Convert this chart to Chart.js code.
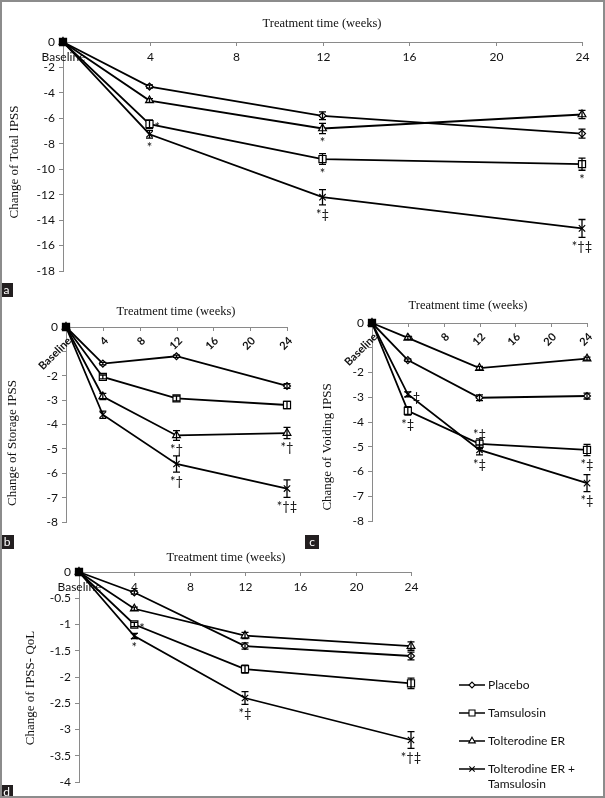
<!DOCTYPE html>
<html>
<head>
<meta charset="utf-8">
<script src="https://cdn.jsdelivr.net/npm/chart.js@4.4.1/dist/chart.umd.min.js"></script>
<style>
  body { margin: 0; background: #fff; }
  #fig { position: relative; width: 605px; height: 798px; overflow: hidden; background: #fff; }
  #fig canvas { position: absolute; }
  .frame { position: absolute; left: 0; top: 0; width: 605px; height: 798px; box-sizing: border-box; border: 2px solid #8c8c8c; pointer-events: none; }
  .tag { position: absolute; background: #231f20; color: #fff; font: 12px Lato, "Liberation Sans", sans-serif; line-height: 14px; text-align: center; }
</style>
</head>
<body>
<div id="fig">
  <canvas id="panelA" width="605" height="298" style="left:0;top:0"></canvas>
  <canvas id="panelB" width="301" height="252" style="left:0;top:298px"></canvas>
  <canvas id="panelC" width="304" height="252" style="left:301px;top:298px"></canvas>
  <canvas id="panelD" width="605" height="248" style="left:0;top:550px"></canvas>
  <div class="tag" style="left:0;top:283px;width:13px;height:14px">a</div>
  <div class="tag" style="left:0;top:535px;width:14px;height:14px">b</div>
  <div class="tag" style="left:305px;top:535px;width:14px;height:14px">c</div>
  <div class="tag" style="left:0;top:785px;width:13px;height:13px">d</div>
  <div class="frame"></div>
</div>
<script>
// time points and axis ticks
const weeks = [0, 4, 12, 24];
const xTickValues = [0, 4, 8, 12, 16, 20, 24];
const xTickLabels = ['Baseline', '4', '8', '12', '16', '20', '24'];
const seriesNames = ['Placebo', 'Tamsulosin', 'Tolterodine ER', 'Tolterodine ER + Tamsulosin'];

// a: total IPSS
const totalPlacebo = [0, -3.5, -5.8, -7.2];
const totalTamsulosin = [0, -6.45, -9.2, -9.6];
const totalTolterodine = [0, -4.6, -6.8, -5.7];
const totalCombo = [0, -7.25, -12.2, -14.65];
const totalErrPlacebo = [0, 0.12, 0.3, 0.35];
const totalErrTamsulosin = [0, 0.33, 0.42, 0.48];
const totalErrTolterodine = [0, 0.15, 0.4, 0.32];
const totalErrCombo = [0, 0.3, 0.6, 0.7];
const totalMarks = [['', '', '', ''], ['', '*', '*', '*'], ['', '', '*', ''], ['', '*', '*‡', '*†‡']];

// b: storage IPSS
const storagePlacebo = [0, -1.5, -1.2, -2.42];
const storageTamsulosin = [0, -2.05, -2.93, -3.2];
const storageTolterodine = [0, -2.85, -4.45, -4.35];
const storageCombo = [0, -3.6, -5.62, -6.63];
const storageErrPlacebo = [0, 0.05, 0.05, 0.1];
const storageErrTamsulosin = [0, 0.08, 0.1, 0.15];
const storageErrTolterodine = [0, 0.13, 0.2, 0.23];
const storageErrCombo = [0, 0.15, 0.33, 0.36];
const storageMarks = [['', '', '', ''], ['', '', '', ''], ['', '', '*†', '*†'], ['', '', '*†', '*†‡']];

// c: voiding IPSS
const voidingPlacebo = [0, -1.5, -3.02, -2.95];
const voidingTamsulosin = [0, -3.55, -4.88, -5.13];
const voidingTolterodine = [0, -0.6, -1.82, -1.44];
const voidingCombo = [0, -2.88, -5.13, -6.47];
const voidingErrPlacebo = [0, 0.05, 0.12, 0.12];
const voidingErrTamsulosin = [0, 0.17, 0.2, 0.23];
const voidingErrTolterodine = [0, 0.06, 0.07, 0.06];
const voidingErrCombo = [0, 0.1, 0.2, 0.34];
const voidingMarks = [['', '', '', ''], ['', '*‡', '*‡', '*‡'], ['', '', '', ''], ['', '‡', '*‡', '*‡']];

// d: IPSS QoL
const qolPlacebo = [0, -0.39, -1.41, -1.6];
const qolTamsulosin = [0, -1.0, -1.85, -2.12];
const qolTolterodine = [0, -0.7, -1.21, -1.41];
const qolCombo = [0, -1.22, -2.4, -3.2];
const qolErrPlacebo = [0, 0.03, 0.06, 0.075];
const qolErrTamsulosin = [0, 0.04, 0.075, 0.1];
const qolErrTolterodine = [0, 0.03, 0.06, 0.08];
const qolErrCombo = [0, 0.05, 0.12, 0.16];
const qolMarks = [['', '', '', ''], ['', '*', '', ''], ['', '', '', ''], ['', '*', '*‡', '*†‡']];

const SANS = 'Lato, "Liberation Sans", sans-serif';
const SERIF = '"Liberation Serif", "DejaVu Serif", serif';
const AXIS = '#8a8a8a';
const INK = '#111';

const markers = [
  { style: 'rectRot', r: 3.5 },
  { style: 'rect', r: 5 },
  { style: 'triangle', r: 4.5 },
  { style: 'crossRot', r: 4.5 }
];

function makeDecor(cfg) {
  return {
    id: 'decor',
    beforeDatasetsDraw(chart) {
      const { ctx, chartArea, scales } = chart;
      const top = chartArea.top;
      ctx.save();
      ctx.strokeStyle = AXIS;
      ctx.lineWidth = 1;
      xTickValues.forEach((v, i) => {
        const px = Math.round(scales.x.getPixelForValue(v)) + 0.5;
        if (i > 0) {
          ctx.beginPath();
          ctx.moveTo(px, top);
          ctx.lineTo(px, top + 4);
          ctx.stroke();
        }
        ctx.fillStyle = INK;
        if (cfg.rotated) {
          ctx.save();
          ctx.translate(px + 3, top + 12);
          ctx.rotate(-Math.PI / 4);
          ctx.font = 'bold 11px ' + SANS;
          ctx.textAlign = 'right';
          ctx.textBaseline = 'middle';
          ctx.fillText(xTickLabels[i], 0, 0);
          ctx.restore();
        } else {
          ctx.font = '12px ' + SANS;
          ctx.textAlign = 'center';
          ctx.textBaseline = 'middle';
          ctx.fillText(xTickLabels[i], px, top + 15);
        }
      });
      ctx.restore();
    },
    afterDatasetsDraw(chart) {
      const { ctx, scales } = chart;
      ctx.save();
      ctx.strokeStyle = '#000';
      ctx.fillStyle = INK;
      ctx.lineWidth = 1.3;
      chart.data.datasets.forEach((d, i) => {
        const meta = chart.getDatasetMeta(i);
        meta.data.forEach((pt, j) => {
          const v = d.data[j].y;
          const e = d.errors[j];
          const yHi = scales.y.getPixelForValue(v + e);
          const yLo = scales.y.getPixelForValue(v - e);
          if (e) {
            ctx.beginPath();
            ctx.moveTo(pt.x, yHi); ctx.lineTo(pt.x, yLo);
            ctx.moveTo(pt.x - 3.5, yHi); ctx.lineTo(pt.x + 3.5, yHi);
            ctx.moveTo(pt.x - 3.5, yLo); ctx.lineTo(pt.x + 3.5, yLo);
            ctx.stroke();
          }
          const txt = d.marks[j];
          if (!txt) return;
          const side = cfg.markSide[i + '-' + j] || 'below';
          ctx.font = '13px ' + SANS;
          if (side === 'right') {
            ctx.textAlign = 'left'; ctx.textBaseline = 'middle';
            ctx.fillText(txt, pt.x + 5, pt.y + 4);
          } else if (side === 'above') {
            ctx.textAlign = 'center'; ctx.textBaseline = 'bottom';
            ctx.fillText(txt, pt.x, yHi + 2);
          } else {
            ctx.textAlign = 'center'; ctx.textBaseline = 'top';
            ctx.fillText(txt, pt.x, yLo + 3);
          }
        });
      });
      ctx.restore();
    },
    afterDraw(chart) {
      const ctx = chart.ctx;
      ctx.save();
      ctx.fillStyle = INK;
      ctx.font = '12.5px ' + SERIF;
      ctx.textAlign = 'center';
      ctx.textBaseline = 'middle';
      ctx.fillText('Treatment time (weeks)', cfg.xTitle[0], cfg.xTitle[1]);
      ctx.translate(cfg.yTitle[0], cfg.yTitle[1]);
      ctx.rotate(-Math.PI / 2);
      ctx.font = '13px ' + SERIF;
      ctx.fillText(cfg.yLabel, 0, 0);
      ctx.restore();

      if (cfg.legend) {
        const [lx, rows] = cfg.legend;
        ctx.save();
        chart.data.datasets.forEach((d, i) => {
          const y = rows[i];
          ctx.strokeStyle = '#000';
          ctx.lineWidth = 1.5;
          ctx.beginPath();
          ctx.moveTo(lx, y); ctx.lineTo(lx + 26, y);
          ctx.stroke();
          ctx.fillStyle = '#fff';
          ctx.lineWidth = 1.1;
          Chart.helpers.drawPoint(ctx, { pointStyle: d.pointStyle, radius: d.pointRadius * 0.85, borderWidth: 1.1, rotation: 0 }, lx + 13, y);
          ctx.fillStyle = INK;
          ctx.font = '12px ' + SANS;
          ctx.textAlign = 'left';
          ctx.textBaseline = 'middle';
          const parts = d.label.includes(' + ') ? [d.label.split(' + ')[0] + ' +', d.label.split(' + ')[1]] : [d.label];
          parts.forEach((p, k) => ctx.fillText(p, lx + 29, y + k * 15));
        });
        ctx.restore();
      }
    }
  };
}

function makeChart(id, cfg) {
  const datasets = cfg.values.map((vals, i) => ({
    label: seriesNames[i],
    data: weeks.map((w, j) => ({ x: w, y: vals[j] })),
    errors: cfg.errors[i],
    marks: cfg.marks[i],
    borderColor: '#000',
    borderWidth: 1.8,
    pointStyle: markers[i].style,
    pointRadius: markers[i].r,
    pointBackgroundColor: ['#000', '#fff', '#fff', '#fff'],
    pointBorderColor: '#000',
    pointBorderWidth: 1.2,
    tension: 0,
    clip: false
  }));
  return new Chart(document.getElementById(id), {
    type: 'line',
    data: { datasets },
    options: {
      responsive: false,
      animation: false,
      devicePixelRatio: 1,
      layout: { padding: cfg.padding },
      plugins: { legend: { display: false }, tooltip: { enabled: false } },
      scales: {
        x: {
          type: 'linear',
          position: 'top',
          min: 0, max: 24,
          ticks: { display: false, stepSize: 4 },
          grid: { display: false },
          border: { display: true, color: AXIS, width: 1 },
          afterFit: (s) => { s.height = 0; }
        },
        y: {
          min: cfg.yMin, max: 0,
          ticks: {
            stepSize: cfg.yStep,
            padding: 4,
            color: INK,
            font: { family: SANS, size: 12 },
            callback: (v) => (cfg.hideY.includes(v) ? '' : String(v))
          },
          grid: { drawOnChartArea: false, drawTicks: true, tickLength: 4, color: AXIS },
          border: { display: true, color: AXIS, width: 1 },
          afterFit: (s) => { s.width = cfg.left; }
        }
      }
    },
    plugins: [makeDecor(cfg)]
  });
}

makeChart('panelA', {
  values: [totalPlacebo, totalTamsulosin, totalTolterodine, totalCombo],
  errors: [totalErrPlacebo, totalErrTamsulosin, totalErrTolterodine, totalErrCombo],
  marks: totalMarks,
  markSide: { '1-1': 'right' },
  yMin: -18, yStep: 2, hideY: [],
  left: 63, padding: { left: 0, top: 42, right: 23, bottom: 27 },
  rotated: false,
  xTitle: [322, 24], yTitle: [15, 162], yLabel: 'Change of Total IPSS'
});

makeChart('panelB', {
  values: [storagePlacebo, storageTamsulosin, storageTolterodine, storageCombo],
  errors: [storageErrPlacebo, storageErrTamsulosin, storageErrTolterodine, storageErrCombo],
  marks: storageMarks,
  markSide: {},
  yMin: -8, yStep: 1, hideY: [-1],
  left: 66, padding: { left: 0, top: 29, right: 14, bottom: 28 },
  rotated: true,
  xTitle: [176, 14], yTitle: [13, 145], yLabel: 'Change of Storage IPSS'
});

makeChart('panelC', {
  values: [voidingPlacebo, voidingTamsulosin, voidingTolterodine, voidingCombo],
  errors: [voidingErrPlacebo, voidingErrTamsulosin, voidingErrTolterodine, voidingErrCombo],
  marks: voidingMarks,
  markSide: { '3-1': 'right', '1-2': 'above' },
  yMin: -8, yStep: 1, hideY: [-1],
  left: 71, padding: { left: 0, top: 25, right: 18, bottom: 29 },
  rotated: true,
  xTitle: [167, 8], yTitle: [27, 149], yLabel: 'Change of Voiding IPSS'
});

makeChart('panelD', {
  values: [qolPlacebo, qolTamsulosin, qolTolterodine, qolCombo],
  errors: [qolErrPlacebo, qolErrTamsulosin, qolErrTolterodine, qolErrCombo],
  marks: qolMarks,
  markSide: { '1-1': 'right' },
  yMin: -4, yStep: 0.5, hideY: [],
  left: 79, padding: { left: 0, top: 22, right: 194, bottom: 16 },
  rotated: false,
  xTitle: [226, 8], yTitle: [31, 138], yLabel: 'Change of IPSS- QoL',
  legend: [459, [135, 163, 191, 219]]
});
</script>
</body>
</html>
